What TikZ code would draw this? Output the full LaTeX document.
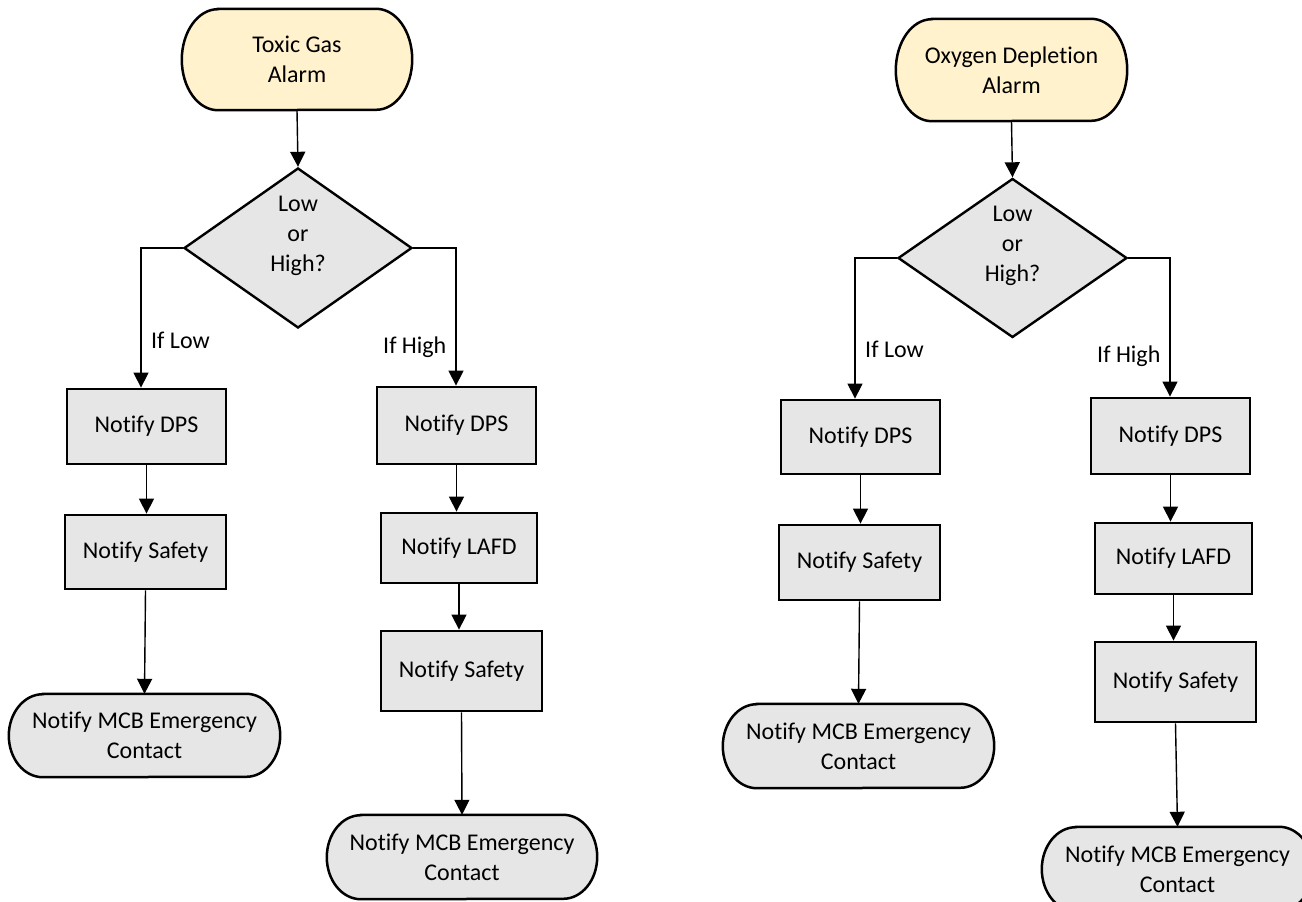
\documentclass[tikz,border=0pt]{standalone}
\usepackage{fontspec}
\setmainfont{Carlito}[Ligatures=NoCommon]
\usetikzlibrary{shapes.geometric,arrows.meta,backgrounds}

\definecolor{alarmfill}{HTML}{FFF2CC}
\definecolor{stepfill}{HTML}{E6E6E6}

\tikzset{
  every node/.style={font=\fontsize{24}{30}\selectfont},
  stepbox/.style={rectangle, draw, line width=2.8pt, fill=stepfill, inner sep=0pt, align=center},
  termbox/.style={rectangle, inner sep=0pt, align=center},
  decision/.style={diamond, draw, line width=2.4pt, fill=stepfill, inner sep=0pt},
  questiontext/.style={align=center, inner sep=0pt, yshift=12pt},
  flow/.style={line width=1.4pt, -{Triangle[width=15pt,length=15pt]}},
  branchlabel/.style={anchor=base west, inner sep=0pt},
  termline/.style={draw, line width=2.5pt},
}

% outline of a terminator: straight top and bottom, elliptic ends
% #1 node, #2 fill colour, #3 end radius (x), #4 half height
\newcommand\termoutline[4]{%
  \path[termline, fill=#2]
    ([xshift=#3]#1.north west) -- ([xshift=-#3]#1.north east)
    arc[start angle=90, end angle=-90, x radius=#3, y radius=#4]
    -- ([xshift=#3]#1.south west)
    arc[start angle=270, end angle=90, x radius=#3, y radius=#4] -- cycle;}

\begin{document}
\begin{tikzpicture}[x=1pt, y=-1pt]
\useasboundingbox (0,0) rectangle (1302,902);
\clip (0,0) rectangle (1302,902);

% ---------------- Toxic gas ----------------
\node[termbox, minimum width=230pt, minimum height=101pt] (tox) at (297,59.5) {Toxic Gas\\Alarm};
\node[decision, minimum width=228pt, minimum height=160pt,
      label={[questiontext]center:{Low\\or\\High?}}] (d1) at (298,248) {};

\node[stepbox, minimum width=159pt, minimum height=75pt] (tl1) at (146.5,426.5) {Notify DPS};
\node[stepbox, minimum width=161pt, minimum height=74pt] (tl2) at (145.5,552) {Notify Safety};
\node[termbox, minimum width=271pt, minimum height=83pt] (tl3) at (144.5,735.5) {Notify MCB Emergency\\Contact};

\node[stepbox, minimum width=159pt, minimum height=77pt] (tr1) at (456.5,425.5) {Notify DPS};
\node[stepbox, minimum width=156pt, minimum height=70pt] (tr2) at (459,548) {Notify LAFD};
\node[stepbox, minimum width=161pt, minimum height=80pt] (tr3) at (461.5,671) {Notify Safety};
\node[termbox, minimum width=270pt, minimum height=84pt] (tr4) at (462,857) {Notify MCB Emergency\\Contact};

\coordinate (d1L) at (141,248);
\coordinate (d1R) at (456,248);

\draw[flow] (tox.south) -- (d1.north);
\draw[flow] (d1.west) -- (d1L) -- (d1L |- tl1.north);
\draw[flow] (d1.east) -- (d1R) -- (d1R |- tr1.north);
\draw[flow] (tl1.south) -- (tl1.south |- tl2.north);
\draw[flow] (tl2.south) -- (tl3.north);
\draw[flow] (tr1.south) -- (tr1.south |- tr2.north);
\draw[flow] (tr2.south) -- (tr2.south |- tr3.north);
\draw[flow] (tr3.south) -- (tr4.north);

\node[branchlabel] (tlow) at (151,348) {If Low};
\node[branchlabel] (thigh) at (383,353) {If High};

% ---------------- Oxygen depletion ----------------
\node[termbox, minimum width=231pt, minimum height=102pt] (oxy) at (1011.5,70) {Oxygen Depletion\\Alarm};
\node[decision, minimum width=229pt, minimum height=159pt,
      label={[questiontext]center:{Low\\or\\High?}}] (d2) at (1012.5,258) {};

\node[stepbox, minimum width=159pt, minimum height=74pt] (ol1) at (860.5,437) {Notify DPS};
\node[stepbox, minimum width=161pt, minimum height=75pt] (ol2) at (859.5,562.5) {Notify Safety};
\node[termbox, minimum width=271pt, minimum height=84pt] (ol3) at (858.5,746) {Notify MCB Emergency\\Contact};

\node[stepbox, minimum width=159pt, minimum height=76pt] (or1) at (1170.5,436) {Notify DPS};
\node[stepbox, minimum width=157pt, minimum height=71pt] (or2) at (1173.5,558.5) {Notify LAFD};
\node[stepbox, minimum width=161pt, minimum height=80pt] (or3) at (1175.5,682) {Notify Safety};
\node[termbox, minimum width=271pt, minimum height=84pt] (or4) at (1177.5,869) {Notify MCB Emergency\\Contact};

\coordinate (d2L) at (855,258);
\coordinate (d2R) at (1170,258);

\draw[flow] (oxy.south) -- (d2.north);
\draw[flow] (d2.west) -- (d2L) -- (d2L |- ol1.north);
\draw[flow] (d2.east) -- (d2R) -- (d2R |- or1.north);
\draw[flow] (ol1.south) -- (ol1.south |- ol2.north);
\draw[flow] (ol2.south) -- (ol3.north);
\draw[flow] (or1.south) -- (or1.south |- or2.north);
\draw[flow] (or2.south) -- (or2.south |- or3.north);
\draw[flow] (or3.south) -- (or4.north);

\node[branchlabel] (olow) at (865,357) {If Low};
\node[branchlabel] (ohigh) at (1097,362) {If High};

% terminator outlines behind their texts
\begin{scope}[on background layer]
  \clip (0,0) rectangle (1302,902);
  \termoutline{tox}{alarmfill}{36pt}{50.5pt}
  \termoutline{oxy}{alarmfill}{36pt}{51pt}
  \termoutline{tl3}{stepfill}{34pt}{41.5pt}
  \termoutline{tr4}{stepfill}{34pt}{42pt}
  \termoutline{ol3}{stepfill}{34pt}{42pt}
  \termoutline{or4}{stepfill}{34pt}{42pt}
\end{scope}
\end{tikzpicture}
\end{document}
